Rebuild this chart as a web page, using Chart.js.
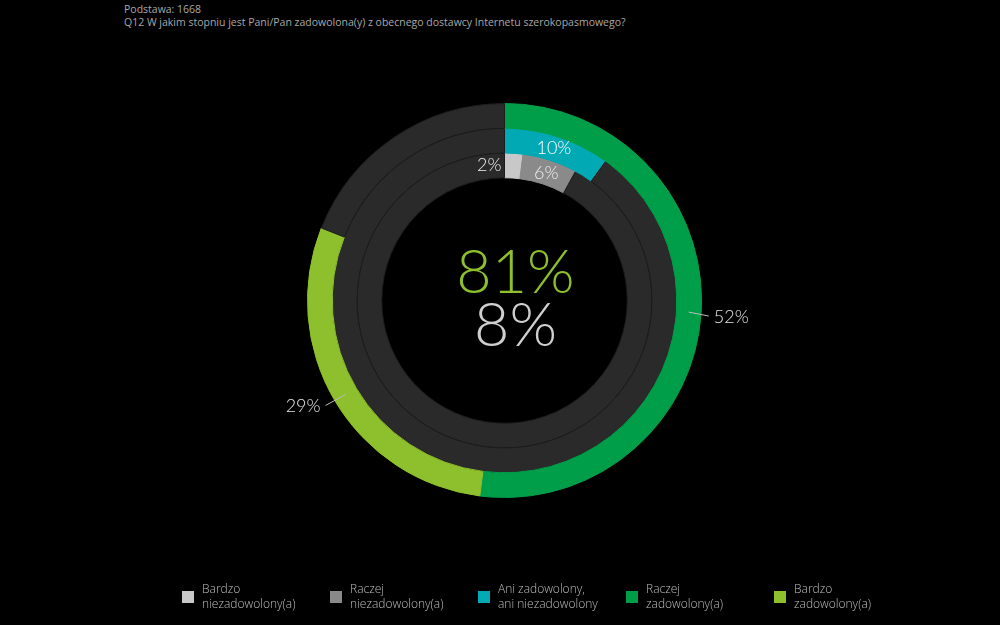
<!DOCTYPE html>
<html>
<head>
<meta charset="utf-8">
<script src="https://cdn.jsdelivr.net/npm/chart.js@4.4.1/dist/chart.umd.min.js"></script>
<style>
    html, body { margin: 0; padding: 0; background: #000; overflow: hidden; }
    body { width: 1000px; height: 625px; position: relative; font-family: "Open Sans", Lato, sans-serif; }
    #wrap { position: absolute; left: 0; top: 0; width: 1000px; height: 625px; }
    .head { position: absolute; left: 124px; top: 3px; color: #a8a8a8; font-size: 10.5px; line-height: 12.5px; }
    #legend { position: absolute; left: 182px; top: 581px; display: flex; }
    .item { width: 148px; display: flex; align-items: flex-start; }
    .box { width: 12px; height: 12px; margin: 10px 8px 0 0; flex: none; }
    .txt { color: #bdbdbd; font-size: 12px; line-height: 15px; font-weight: 300; }
</style>
</head>
<body>
<div class="head">Podstawa: 1668<br>Q12 W jakim stopniu jest Pani/Pan zadowolona(y) z obecnego dostawcy Internetu szerokopasmowego?</div>
<div id="wrap"><canvas id="donut" width="1000" height="625"></canvas></div>
<div id="legend"></div>
<script>
const categories = ["Bardzo niezadowolony(a)", "Raczej niezadowolony(a)", "Ani zadowolony, ani niezadowolony", "Raczej zadowolony(a)", "Bardzo zadowolony(a)"];
const legendLines = [["Bardzo", "niezadowolony(a)"], ["Raczej", "niezadowolony(a)"], ["Ani zadowolony,", "ani niezadowolony"], ["Raczej", "zadowolony(a)"], ["Bardzo", "zadowolony(a)"]];
const shares = [2, 6, 10, 52, 29];
const colors = ["#c8c8c8", "#8a8a8a", "#00a9b3", "#009e49", "#8dc02c"];
const restColor = "#2a2a2a";

// pierścienie: zewnętrzny = zadowoleni, środkowy = neutralni, wewnętrzny = niezadowoleni
const satisfied = shares[3] + shares[4];
const dissatisfied = shares[0] + shares[1];
const outerRing = [shares[3], shares[4], 100 - satisfied];
const middleRing = [shares[2], 100 - shares[2]];
const innerRing = [shares[0], shares[1], 100 - dissatisfied];

const thinFont = (size) => `300 ${size}px Lato, "Open Sans", sans-serif`;

function ringDataset(values, cols) {
    return {
        data: values,
        backgroundColor: cols,
        borderColor: cols.map(c => c === restColor ? "#1c1c1c" : c),
        borderWidth: 1
    };
}

const labelPlugin = {
    id: "labels",
    afterDatasetsDraw(chart) {
        const ctx = chart.ctx;
        const outer = chart.getDatasetMeta(0).data;
        const middle = chart.getDatasetMeta(1).data;
        const inner = chart.getDatasetMeta(2).data;
        ctx.save();
        ctx.textBaseline = "middle";
        ctx.font = thinFont(18);

        const mid = (arc) => {
            const a = (arc.startAngle + arc.endAngle) / 2;
            const r = (arc.innerRadius + arc.outerRadius) / 2;
            return { x: arc.x + Math.cos(a) * r, y: arc.y + Math.sin(a) * r };
        };

        // wewnątrz pierścieni
        ctx.fillStyle = "#ffffff";
        ctx.textAlign = "center";
        let p = mid(middle[0]);
        ctx.fillText(shares[2] + "%", p.x, p.y);
        p = mid(inner[1]);
        ctx.fillStyle = "#eeeeee";
        ctx.fillText(shares[1] + "%", p.x, p.y + 1);

        // 2% po lewej stronie wycinka
        const a0 = inner[0];
        const r0 = (a0.innerRadius + a0.outerRadius) / 2;
        ctx.textAlign = "right";
        ctx.fillText(shares[0] + "%", a0.x + Math.cos(a0.startAngle) * r0 - 3, a0.y + Math.sin(a0.startAngle) * r0);

        // etykiety zewnętrzne z linią
        ctx.strokeStyle = "#bdbdbd";
        ctx.lineWidth = 1;
        ctx.fillStyle = "#e6e6e6";
        [0, 1].forEach(i => {
            const arc = outer[i];
            const pm = mid(arc);
            const right = pm.x > arc.x;
            const ex = pm.x + (right ? 20 : -20);
            const ey = pm.y + (right ? 4 : 11);
            ctx.beginPath();
            ctx.moveTo(pm.x, pm.y);
            ctx.lineTo(ex, ey);
            ctx.stroke();
            ctx.textAlign = right ? "left" : "right";
            ctx.fillText(shares[3 + i] + "%", ex + (right ? 5 : -5), ey + 1);
        });

        // środek
        const cx = outer[0].x, cy = outer[0].y;
        ctx.textAlign = "center";
        ctx.textBaseline = "alphabetic";
        ctx.font = thinFont(61);
        ctx.fillStyle = "#8dc02c";
        ctx.fillText(satisfied + "%", cx + 11, cy - 8);
        ctx.fillStyle = "#cfcfcf";
        ctx.fillText(dissatisfied + "%", cx + 11, cy + 45);
        ctx.restore();
    }
};

new Chart(document.getElementById("donut"), {
    type: "doughnut",
    data: {
        datasets: [
            ringDataset(outerRing, [colors[3], colors[4], restColor]),
            ringDataset(middleRing, [colors[2], restColor]),
            ringDataset(innerRing, [colors[0], colors[1], restColor])
        ]
    },
    options: {
        responsive: false,
        animation: false,
        cutout: "62.3%",
        layout: { padding: { left: 307, right: 298, top: 103, bottom: 127 } },
        plugins: { legend: { display: false }, tooltip: { enabled: false } }
    },
    plugins: [labelPlugin]
});

const legend = document.getElementById("legend");
categories.forEach((name, i) => {
    const item = document.createElement("div");
    item.className = "item";
    item.title = name;
    item.innerHTML = `<div class="box" style="background:${colors[i]}"></div><div class="txt">${legendLines[i].join("<br>")}</div>`;
    legend.appendChild(item);
});
</script>
</body>
</html>
